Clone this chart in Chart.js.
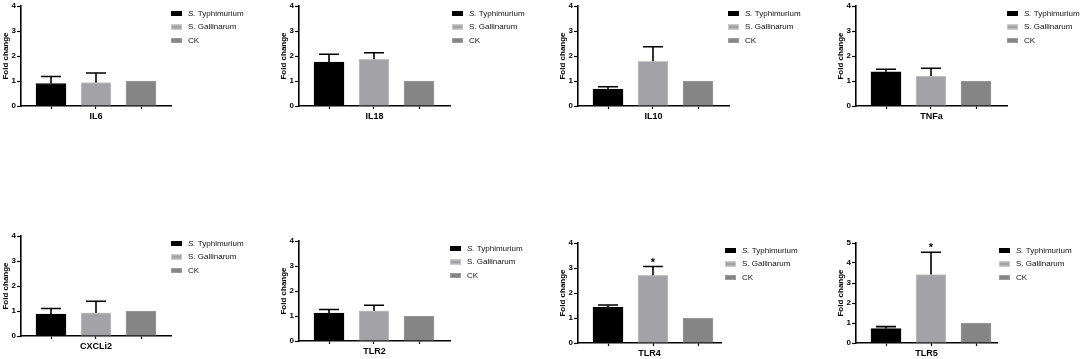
<!DOCTYPE html>
<html>
<head>
<meta charset="utf-8">
<script src="https://cdn.jsdelivr.net/npm/chart.js@4.4.0/dist/chart.umd.min.js"></script>
<style>
html, body { margin: 0; padding: 0; background: #fff; }
#page { position: relative; width: 1084px; height: 359px; overflow: hidden; background: #fff; }
#page canvas { position: absolute; }
</style>
</head>
<body>
<div id="page"></div>
<script>
// data
const genes = ['IL6', 'IL18', 'IL10', 'TNFa', 'CXCLi2', 'TLR2', 'TLR4', 'TLR5'];
const groups = ['S. Typhimurium', 'S. Gallinarum', 'CK'];
const typhimurium    = [0.90, 1.76, 0.68, 1.37, 0.88, 1.12, 1.43, 0.72];
const typhimuriumErr = [0.28, 0.31, 0.09, 0.10, 0.22, 0.14, 0.09, 0.10];
const gallinarum     = [0.94, 1.87, 1.79, 1.20, 0.93, 1.21, 2.71, 3.42];
const gallinarumErr  = [0.38, 0.26, 0.58, 0.31, 0.46, 0.22, 0.35, 1.12];
const ck             = [1, 1, 1, 1, 1, 1, 1, 1];
const ckErr          = [0, 0, 0, 0, 0, 0, 0, 0];
const gallinarumSig  = ['', '', '', '', '', '', '*', '*'];
const yMax           = [4, 4, 4, 4, 4, 4, 4, 5];

// look
const fills   = ['#000000', '#a3a3a7', '#858585'];
const borders = ['#000000', '#c6c6c6', '#9c9c9c'];
const italicPrefix = ['S.', '', ''];
const FONT = 'Arial, "Liberation Sans", sans-serif';

// panel placement (px)
const axisLeft  = [21, 299, 578, 856, 21, 299, 578, 856];
const axisTop   = [6, 6, 6, 6, 236, 241, 243, 243];
const axisLen   = [150, 151, 151, 151, 150, 151, 143, 141];
const legendOff = [150, 153, 150, 151, 150, 151, 147, 143];

const errorBars = {
    id: 'errorBars',
    afterDatasetsDraw(chart) {
        const ctx = chart.ctx;
        const y = chart.scales.y;
        ctx.save();
        chart.data.datasets.forEach((ds, i) => {
            const bar = chart.getDatasetMeta(i).data[0];
            if (!bar) return;
            const top = y.getPixelForValue(ds.data[0].y + ds.err);
            ctx.strokeStyle = '#000';
            ctx.lineWidth = 1.6;
            if (ds.err > 0) {
                ctx.beginPath();
                ctx.moveTo(bar.x, bar.y);
                ctx.lineTo(bar.x, top);
                ctx.moveTo(bar.x - 10, top);
                ctx.lineTo(bar.x + 10, top);
                ctx.stroke();
            }
            if (ds.mark) {
                ctx.fillStyle = '#000';
                ctx.font = 'bold 11px ' + FONT;
                ctx.textAlign = 'center';
                ctx.textBaseline = 'alphabetic';
                ctx.fillText(ds.mark, bar.x, top - 1);
            }
        });
        ctx.restore();
    }
};

const sideLegend = {
    id: 'sideLegend',
    afterDraw(chart, args, opts) {
        const ctx = chart.ctx;
        const a = chart.chartArea;
        const x0 = a.left + opts.offset;
        ctx.save();
        chart.data.datasets.forEach((ds, i) => {
            const yc = a.top + 7.5 + i * 13.5;
            ctx.fillStyle = fills[i];
            ctx.fillRect(x0, yc - 2.5, 11, 5);
            ctx.strokeStyle = borders[i];
            ctx.lineWidth = 1;
            ctx.strokeRect(x0 + 0.5, yc - 2, 10, 4);
            ctx.fillStyle = '#111';
            ctx.textBaseline = 'middle';
            ctx.textAlign = 'left';
            let tx = x0 + 17;
            let rest = ds.label;
            const pre = italicPrefix[i];
            if (pre) {
                ctx.font = 'italic 8px ' + FONT;
                ctx.fillText(pre, tx, yc);
                tx += ctx.measureText(pre).width;
                rest = ds.label.slice(pre.length);
            }
            ctx.font = '8px ' + FONT;
            ctx.fillText(rest, tx, yc);
        });
        ctx.restore();
    }
};

const page = document.getElementById('page');

function buildPanel(p) {
    const w = 261, h = 122;
    const cv = document.createElement('canvas');
    cv.width = w;
    cv.height = h;
    cv.style.left = (axisLeft[p] - 21) + 'px';
    cv.style.top = (axisTop[p] - 6) + 'px';
    cv.style.width = w + 'px';
    cv.style.height = h + 'px';
    page.appendChild(cv);

    const values = [typhimurium[p], gallinarum[p], ck[p]];
    const errors = [typhimuriumErr[p], gallinarumErr[p], ckErr[p]];
    const marks = ['', gallinarumSig[p], ''];

    const datasets = groups.map((g, i) => ({
        label: g,
        data: [{ x: i, y: values[i] }],
        err: errors[i],
        mark: marks[i],
        backgroundColor: fills[i],
        borderColor: borders[i],
        borderWidth: 1,
        barThickness: 30,
        grouped: false
    }));

    // 45 px between bar centres, first centre 30 px right of the y axis
    const xMin = -30 / 45;

    new Chart(cv, {
        type: 'bar',
        data: { datasets: datasets },
        options: {
            responsive: false,
            animation: false,
            devicePixelRatio: 1,
            layout: { padding: { top: 6, right: w - 21 - axisLen[p], bottom: 0, left: 0 } },
            plugins: {
                legend: { display: false },
                tooltip: { enabled: false },
                sideLegend: { offset: legendOff[p] }
            },
            scales: {
                x: {
                    type: 'linear',
                    bounds: 'data',
                    offset: false,
                    min: xMin,
                    max: xMin + axisLen[p] / 45,
                    afterBuildTicks: s => { s.ticks = groups.map((g, i) => ({ value: i })); },
                    afterFit: s => { s.height = 16; },
                    border: { display: true, color: '#000', width: 1.6 },
                    grid: { display: true, offset: false, drawOnChartArea: false, drawTicks: true, tickLength: 3, tickWidth: 1.2, tickColor: '#000' },
                    ticks: { display: false },
                    title: { display: true, text: genes[p], color: '#000', padding: 0,
                             font: { family: FONT, size: 9, weight: 'bold' } }
                },
                y: {
                    min: 0,
                    max: yMax[p],
                    afterFit: s => { s.width = 21; },
                    border: { display: true, color: '#000', width: 1.6 },
                    grid: { display: true, drawOnChartArea: false, drawTicks: true, tickLength: 4, tickWidth: 1.2, tickColor: '#000' },
                    ticks: { stepSize: 1, padding: 1, color: '#000',
                             font: { family: FONT, size: 8, weight: 'bold' } },
                    title: { display: true, text: 'Fold change', color: '#000', padding: { top: 1, bottom: 0 },
                             font: { family: FONT, size: 8, weight: 'bold' } }
                }
            }
        },
        plugins: [errorBars, sideLegend]
    });
}

for (let p = 0; p < genes.length; p++) {
    buildPanel(p);
}
</script>
</body>
</html>
